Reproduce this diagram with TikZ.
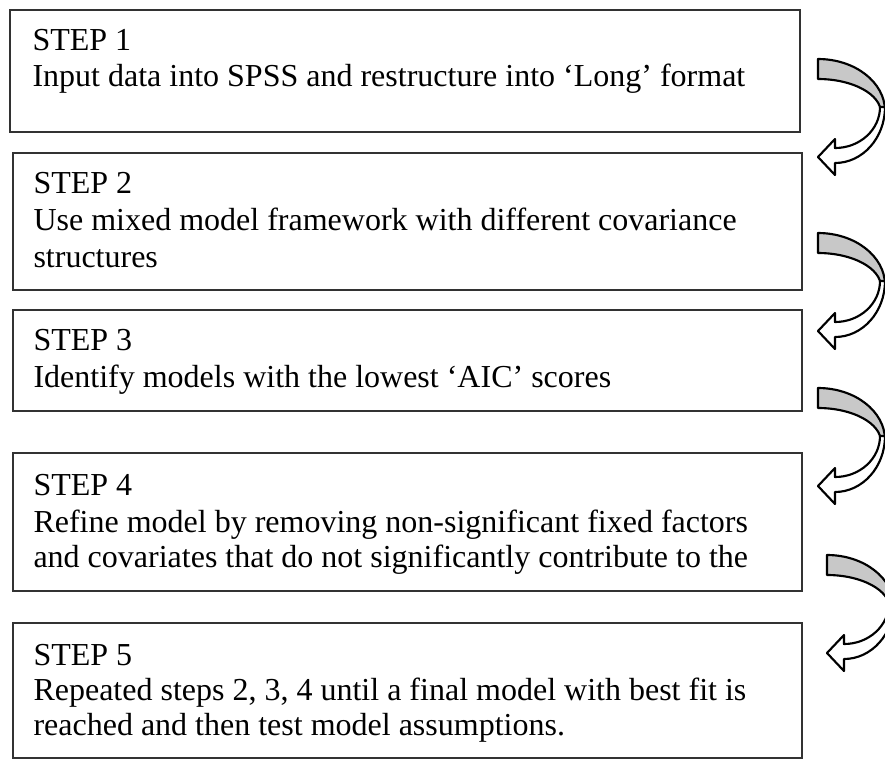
\documentclass[tikz,border=0pt]{standalone}
\usepackage{fontspec}
\setmainfont{Liberation Serif}
\usetikzlibrary{fit}
\definecolor{arrowgray}{RGB}{200,200,200}
\definecolor{boxline}{RGB}{50,50,50}
\tikzset{
  boxst/.style={draw=boxline, line width=0.6pt, inner sep=0pt},
  txt/.style={anchor=base west, inner sep=0pt, font=\fontsize{12}{13.8}\selectfont},
  arrowline/.style={draw=black, line width=0.8pt, line join=round},
  curvarrow/.pic={
    \path[arrowline, fill=arrowgray] (0,0) arc[start angle=-90, end angle=0, x radius=67, y radius=52]
      -- (63,54) arc[start angle=0, end angle=-90, x radius=63, y radius=34] -- cycle;
    \path[arrowline, fill=white] (67,48) arc[start angle=0, end angle=90, x radius=50, y radius=56]
      -- (17,116) -- (0,98) -- (17,80) -- (17,89)
      arc[start angle=90, end angle=0, x radius=45, y radius=41] -- cycle;
  }
}
\begin{document}
\begin{tikzpicture}[x=0.375pt, y=-0.375pt]
\useasboundingbox (0,0) rectangle (885,760);
\fill[white] (0,0) rectangle (885,760);

\node[boxst, fit={(10,10) (800,132)}] (box1) {};
\node[boxst, fit={(13,153) (802,290)}] (box2) {};
\node[boxst, fit={(13,310) (802,411)}] (box3) {};
\node[boxst, fit={(13,453) (802,591)}] (box4) {};
\node[boxst, fit={(13,623) (802,758)}] (box5) {};

\node[txt] (t1a) at (32,50) {STEP 1};
\node[txt] (t1b) at (32,86) {Input data into SPSS and restructure into ‘Long’ format};

\node[txt] (t2a) at (33,193) {STEP 2};
\node[txt] (t2b) at (33,230) {Use mixed model framework with different covariance};
\node[txt] (t2c) at (33,267) {structures};

\node[txt] (t3a) at (33,350) {STEP 3};
\node[txt] (t3b) at (33,387) {Identify models with the lowest ‘AIC’ scores};

\node[txt] (t4a) at (33,495) {STEP 4};
\node[txt] (t4b) at (33,532) {Refine model by removing non-significant fixed factors};
\node[txt] (t4c) at (33,567) {and covariates that do not significantly contribute to the};

\node[txt] (t5a) at (33,665) {STEP 5};
\node[txt] (t5b) at (33,700) {Repeated steps 2, 3, 4 until a final model with best fit is};
\node[txt] (t5c) at (33,735) {reached and then test model assumptions.};

\pic at (818,59) {curvarrow};
\pic at (818,233) {curvarrow};
\pic at (818,388) {curvarrow};
\pic at (827,555) {curvarrow};
\end{tikzpicture}
\end{document}
